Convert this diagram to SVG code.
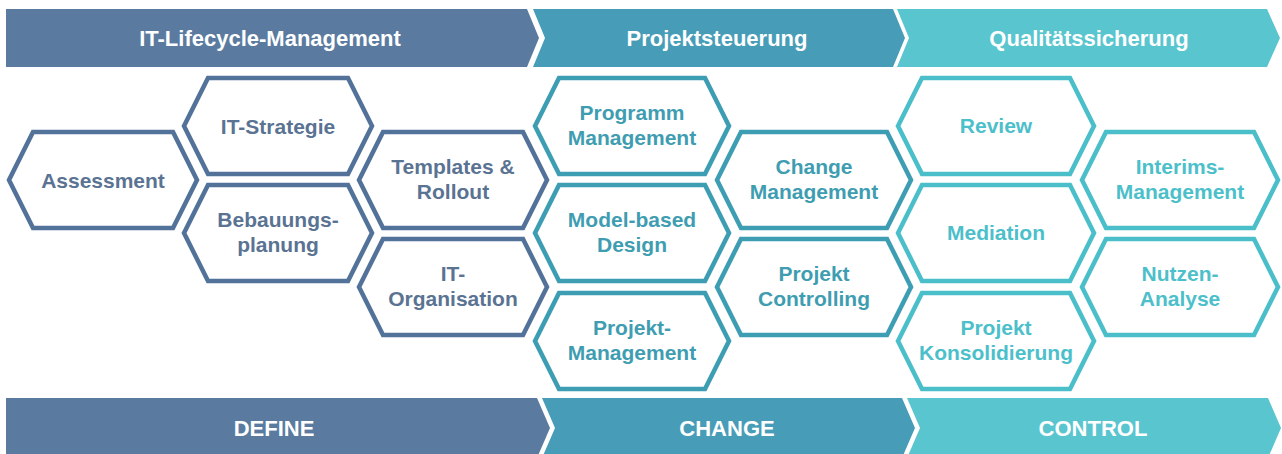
<svg xmlns="http://www.w3.org/2000/svg" width="1282" height="454" viewBox="0 0 1282 454">
<style>
.hex{fill:#ffffff;stroke-width:4.5;stroke-linejoin:miter}
.define .hex{stroke:#52729a}
.change .hex{stroke:#3d9db2}
.control .hex{stroke:#4bbfc9}
.t{font-family:"Liberation Sans",Arial,sans-serif;font-weight:bold;font-size:21px;text-anchor:middle}
.define .t{fill:#5a7393}
.change .t{fill:#3f9db2}
.control .t{fill:#4cc0ca}
.bt{font-family:"Liberation Sans",Arial,sans-serif;font-weight:bold;font-size:22px;text-anchor:middle;fill:#ffffff}
.c1{fill:#5a7b9f}
.c2{fill:#479db7}
.c3{fill:#59c5cf}
</style>
<rect width="1282" height="454" fill="#ffffff"/>

<g id="top-banner">
  <g id="banner-itlm"><path class="c1" d="M6,9 L527,9 L539,38 L527,67 L6,67 Z"/><text class="bt" x="270" y="46">IT-Lifecycle-Management</text></g>
  <g id="banner-projektsteuerung"><path class="c2" d="M533,9 L893,9 L905,38 L893,67 L533,67 L545,38 Z"/><text class="bt" x="717" y="46">Projektsteuerung</text></g>
  <g id="banner-qualitaet"><path class="c3" d="M897,9 L1267,9 L1280,38 L1267,67 L897,67 L909,38 Z"/><text class="bt" x="1089" y="46">Qualitätssicherung</text></g>
</g>

<g class="define">
  <g id="assessment"><polygon class="hex" points="9,180 33,132 173,132 197,180 173,228 33,228"/><text class="t" x="103" y="187.5">Assessment</text></g>
  <g id="it-strategie"><polygon class="hex" points="184,126 208,78 348,78 372,126 348,174 208,174"/><text class="t" x="278" y="133.5">IT-Strategie</text></g>
  <g id="bebauungsplanung"><polygon class="hex" points="184,233 208,185 348,185 372,233 348,281 208,281"/><text class="t" x="278" y="227">Bebauungs-</text><text class="t" x="278" y="252">planung</text></g>
  <g id="templates-rollout"><polygon class="hex" points="359,180 383,132 523,132 547,180 523,228 383,228"/><text class="t" x="453" y="174">Templates &amp;</text><text class="t" x="453" y="199">Rollout</text></g>
  <g id="it-organisation"><polygon class="hex" points="359,287 383,239 523,239 547,287 523,335 383,335"/><text class="t" x="453" y="281">IT-</text><text class="t" x="453" y="306">Organisation</text></g>
</g>

<g class="change">
  <g id="programm-management"><polygon class="hex" points="535,126 559,78 705,78 729,126 705,174 559,174"/><text class="t" x="632" y="120">Programm</text><text class="t" x="632" y="145">Management</text></g>
  <g id="model-based-design"><polygon class="hex" points="535,233 559,185 705,185 729,233 705,281 559,281"/><text class="t" x="632" y="227">Model-based</text><text class="t" x="632" y="252">Design</text></g>
  <g id="projekt-management"><polygon class="hex" points="535,341 559,293 705,293 729,341 705,389 559,389"/><text class="t" x="632" y="335">Projekt-</text><text class="t" x="632" y="360">Management</text></g>
  <g id="change-management"><polygon class="hex" points="717,180 741,132 887,132 911,180 887,228 741,228"/><text class="t" x="814" y="174">Change</text><text class="t" x="814" y="199">Management</text></g>
  <g id="projekt-controlling"><polygon class="hex" points="717,287 741,239 887,239 911,287 887,335 741,335"/><text class="t" x="814" y="281">Projekt</text><text class="t" x="814" y="306">Controlling</text></g>
</g>

<g class="control">
  <g id="review"><polygon class="hex" points="898,126 922,78 1070,78 1094,126 1070,174 922,174"/><text class="t" x="996" y="133">Review</text></g>
  <g id="mediation"><polygon class="hex" points="898,233 922,185 1070,185 1094,233 1070,281 922,281"/><text class="t" x="996" y="240">Mediation</text></g>
  <g id="projekt-konsolidierung"><polygon class="hex" points="898,341 922,293 1070,293 1094,341 1070,389 922,389"/><text class="t" x="996" y="335">Projekt</text><text class="t" x="996" y="360">Konsolidierung</text></g>
  <g id="interims-management"><polygon class="hex" points="1082,180 1106,132 1254,132 1278,180 1254,228 1106,228"/><text class="t" x="1180" y="174">Interims-</text><text class="t" x="1180" y="199">Management</text></g>
  <g id="nutzen-analyse"><polygon class="hex" points="1082,287 1106,239 1254,239 1278,287 1254,335 1106,335"/><text class="t" x="1180" y="281">Nutzen-</text><text class="t" x="1180" y="306">Analyse</text></g>
</g>

<g id="bottom-banner">
  <g id="banner-define"><path class="c1" d="M6,398 L537,398 L550,428 L537,458 L6,458 Z"/><text class="bt" x="274" y="436">DEFINE</text></g>
  <g id="banner-change"><path class="c2" d="M542,398 L902,398 L915,428 L902,458 L542,458 L555,428 Z"/><text class="bt" x="727" y="436">CHANGE</text></g>
  <g id="banner-control"><path class="c3" d="M907,398 L1268,398 L1281,428 L1268,458 L907,458 L920,428 Z"/><text class="bt" x="1093" y="436">CONTROL</text></g>
</g>
</svg>
